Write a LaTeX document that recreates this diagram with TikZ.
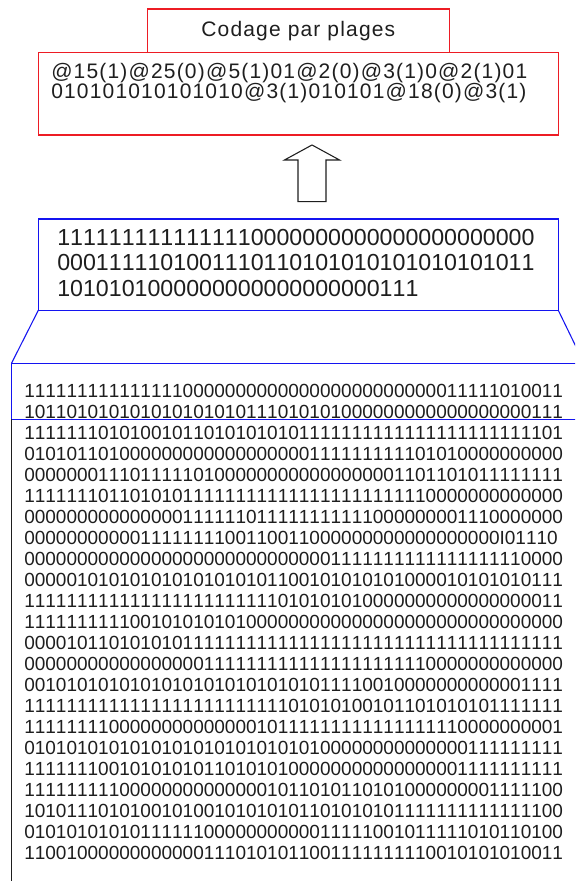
\documentclass[tikz,border=0pt]{standalone}
\usepackage{fontspec}
\setmainfont[Kerning=Off]{Liberation Sans}
\newfontfamily\plagefont[LetterSpace=5.6,Kerning=Off]{Liberation Sans}
\usepackage{xcolor}
\usepackage{tikz}
\usetikzlibrary{positioning}
\definecolor{pRed}{RGB}{237,28,36}
\definecolor{pBlue}{RGB}{20,20,240}
\definecolor{pInk}{RGB}{30,30,30}
\tikzset{
titlebox/.style={rectangle,draw=pRed,line width=0.8pt,minimum width=226.2pt,minimum height=32.5pt,inner sep=0pt,outer sep=0pt,text=pInk,font=\plagefont\fontsize{15.75pt}{15pt}\selectfont},
codebox/.style={rectangle,draw=pRed,line width=0.8pt,minimum width=390pt,minimum height=62pt,outer sep=0pt},
bitbox/.style={rectangle,draw=pBlue,line width=0.8pt,minimum width=390pt,minimum height=68.5pt,outer sep=0pt},
winbox/.style={rectangle,draw=pBlue,line width=0.8pt,minimum width=429.4pt,minimum height=42pt,outer sep=0pt},
codetext/.style={anchor=west,inner sep=0pt,align=left,text=pInk,font=\plagefont\fontsize{15.75pt}{15pt}\selectfont},
bittext/.style={anchor=west,inner sep=0pt,align=left,text=pInk,font=\fontsize{17.4pt}{19.1pt}\selectfont},
pagetext/.style={anchor=west,inner sep=0pt,align=left,text=pInk,font=\fontsize{14.25pt}{15.77pt}\selectfont},
hollow/.style={draw=pInk,line width=0.8pt,fill=white},
link/.style={draw=pBlue,line width=0.8pt},
pageline/.style={draw=pInk,line width=0.8pt}
}

\begin{document}
\begin{tikzpicture}[x=0.75pt,y=-0.75pt]
\useasboundingbox (0,0) rectangle (575,881);
\clip (0,0) rectangle (575,881);
\node[codebox] (code) at (298.3,93.65) {};
\node[titlebox,above=0pt of code] (title) {Codage par plages};
\node[codetext] (rle) at (51,83.3) {@15(1)@25(0)@5(1)01@2(0)@3(1)0@2(1)01\\010101010101010@3(1)010101@18(0)@3(1)};
\node[bitbox,below=63pt of code] (mid) {};
\node[bittext] (midtext) at (57,263) {111111111111111{}0000000000{}0000000000{}00\\0001111101{}0011101101{}0101010101{}0101011\\1010101000{}0000000000{}00000111};
\coordinate (tail) at ([shift={(13.7,-17.3)}]mid.north);
\draw[hollow] (tail) ++(-14,0) -- ++(0,-41.7) -- ++(-13.5,0) -- ++(27.5,-15) -- ++(27.5,15) -- ++(-13.5,0) -- ++(0,41.7) -- cycle;
\node[winbox,anchor=north west] (win) at (11.5,363.3) {};
\draw[link] (mid.south west) -- (win.north west); \draw[link] (mid.south east) -- (win.north east);
\draw[pageline] (win.south west) -- ++(0,470);
\node[pagetext] (page) at (24,622) {%
11111111111111100000{}00000000000000000000{}11111010011\\
10110101010101010101{}01110101010000000000{}00000000111\\
11111110101001011010{}10101011111111111111{}11111111101\\
01010110100000000000{}00000001111111111010{}10000000000\\
00000001110111110100{}00000000000000011011{}01011111111\\
11111110110101011111{}11111111111111111100{}00000000000\\
00000000000000011111{}10111111111110000000{}01110000000\\
00000000000111111110{}01100110000000000000{}00000I01110\\
00000000000000000000{}00000000011111111111{}11111110000\\
00000101010101010101{}01011001010101010000{}10101010111\\
11111111111111111111{}11110101010100000000{}00000000011\\
11111111110010101010{}10000000000000000000{}00000000000\\
00001011010101011111{}11111111111111111111{}11111111111\\
00000000000000000111{}11111111111111111100{}00000000000\\
00101010101010101010{}10101010111100100000{}00000001111\\
11111111111111111111{}11111010101001011010{}10101111111\\
11111111000000000000{}00101111111111111111{}10000000001\\
01010101010101010101{}01010101000000000000{}00111111111\\
11111110010101010110{}10101000000000000000{}01111111111\\
11111111100000000000{}00010110101101010000{}00001111100\\
10101110101001010010{}10101011010101011111{}11111111100\\
01010101010111111000{}00000000111110010111{}11010110100\\
11001000000000000111{}01010110011111111100{}10101010011};
\end{tikzpicture}
\end{document}
